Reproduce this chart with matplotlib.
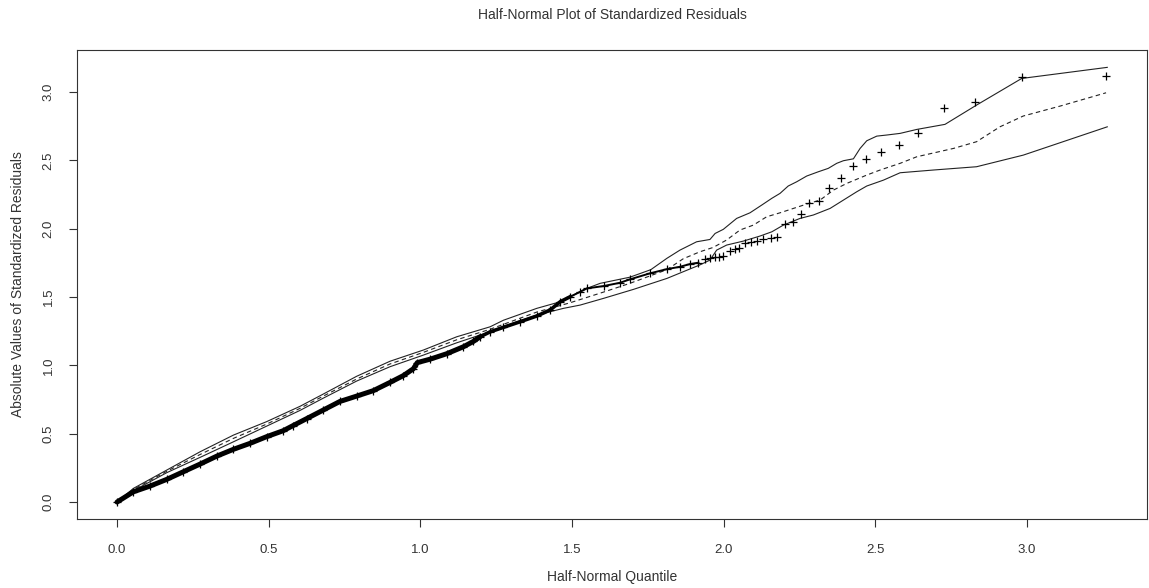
import numpy as np
import matplotlib
matplotlib.use("Agg")
import matplotlib.pyplot as plt

# ---------------------------------------------------------------------------
# DATA
# ---------------------------------------------------------------------------

# sorted absolute standardized residuals vs half-normal quantiles
quantile = [
    0.000, 0.054, 0.109, 0.164, 0.219, 0.274, 0.329, 0.384, 0.438, 0.493,
    0.548, 0.581, 0.625, 0.680, 0.735, 0.790, 0.845, 0.900, 0.944, 0.977,
    0.990, 1.032, 1.087, 1.142, 1.175, 1.197, 1.230, 1.274, 1.329, 1.384,
    1.428, 1.461, 1.494, 1.527, 1.549, 1.604, 1.658, 1.691, 1.757, 1.813,
    1.856, 1.889, 1.917, 1.940, 1.956, 1.970, 1.985, 1.999, 2.022, 2.037,
    2.050, 2.072, 2.090, 2.110, 2.131, 2.155, 2.176, 2.202, 2.230, 2.256,
    2.282, 2.315, 2.349, 2.387, 2.425, 2.470, 2.520, 2.577, 2.642, 2.727,
    2.830, 2.983, 3.261,
]
abs_resid = [
    0.000, 0.075, 0.117, 0.166, 0.222, 0.278, 0.336, 0.386, 0.429, 0.478,
    0.522, 0.560, 0.610, 0.673, 0.736, 0.775, 0.815, 0.875, 0.925, 0.975,
    1.020, 1.045, 1.085, 1.136, 1.175, 1.209, 1.245, 1.278, 1.319, 1.361,
    1.405, 1.465, 1.502, 1.538, 1.563, 1.580, 1.604, 1.629, 1.673, 1.704,
    1.721, 1.741, 1.751, 1.778, 1.783, 1.790, 1.795, 1.800, 1.838, 1.851,
    1.856, 1.897, 1.902, 1.909, 1.924, 1.931, 1.936, 2.031, 2.048, 2.109,
    2.187, 2.200, 2.297, 2.373, 2.456, 2.511, 2.558, 2.612, 2.699, 2.882,
    2.924, 3.111, 3.116,
]

# simulated envelope: upper, median (dashed), lower
upper_x = [
    0.000, 0.054, 0.164, 0.274, 0.384, 0.493, 0.603, 0.680, 0.790, 0.900,
    1.010, 1.120, 1.230, 1.274, 1.384, 1.461, 1.549, 1.593, 1.691, 1.760,
    1.813, 1.856, 1.911, 1.955, 1.972, 1.999, 2.043, 2.087, 2.126, 2.159,
    2.186, 2.213, 2.241, 2.274, 2.312, 2.345, 2.373, 2.395, 2.428, 2.450,
    2.472, 2.505, 2.538, 2.582, 2.637, 2.730, 2.834, 2.983, 3.265,
]
upper_y = [
    0.000, 0.100, 0.234, 0.368, 0.490, 0.588, 0.700, 0.790, 0.920, 1.030,
    1.112, 1.209, 1.282, 1.330, 1.417, 1.465, 1.563, 1.600, 1.645, 1.700,
    1.783, 1.843, 1.904, 1.921, 1.965, 1.995, 2.075, 2.116, 2.173, 2.222,
    2.258, 2.312, 2.343, 2.385, 2.416, 2.441, 2.478, 2.497, 2.511, 2.587,
    2.643, 2.677, 2.685, 2.697, 2.726, 2.763, 2.904, 3.099, 3.180,
]
mid_x = [
    0.000, 0.054, 0.164, 0.274, 0.384, 0.493, 0.603, 0.680, 0.790, 0.900,
    1.010, 1.120, 1.230, 1.274, 1.384, 1.494, 1.604, 1.691, 1.813, 1.867,
    1.922, 1.966, 2.010, 2.054, 2.098, 2.142, 2.186, 2.230, 2.274, 2.318,
    2.362, 2.406, 2.472, 2.516, 2.582, 2.637, 2.758, 2.834, 2.911, 2.988,
    3.110, 3.261,
]
mid_y = [
    0.000, 0.092, 0.225, 0.348, 0.466, 0.570, 0.685, 0.775, 0.900, 1.010,
    1.095, 1.187, 1.264, 1.300, 1.390, 1.458, 1.536, 1.600, 1.700, 1.780,
    1.831, 1.863, 1.917, 1.990, 2.026, 2.087, 2.116, 2.148, 2.180, 2.209,
    2.282, 2.331, 2.392, 2.429, 2.478, 2.526, 2.587, 2.636, 2.745, 2.824,
    2.897, 2.994,
]
lower_x = [
    0.000, 0.054, 0.164, 0.274, 0.384, 0.493, 0.603, 0.680, 0.790, 0.900,
    1.010, 1.120, 1.230, 1.274, 1.384, 1.472, 1.527, 1.604, 1.703, 1.813,
    1.922, 1.955, 1.977, 2.010, 2.065, 2.120, 2.159, 2.197, 2.252, 2.296,
    2.351, 2.395, 2.439, 2.472, 2.527, 2.582, 2.692, 2.834, 2.988, 3.265,
]
lower_y = [
    0.000, 0.083, 0.215, 0.327, 0.441, 0.555, 0.670, 0.760, 0.885, 0.990,
    1.075, 1.165, 1.246, 1.285, 1.368, 1.417, 1.441, 1.490, 1.556, 1.636,
    1.735, 1.770, 1.843, 1.880, 1.909, 1.946, 1.977, 2.026, 2.075, 2.100,
    2.148, 2.209, 2.270, 2.312, 2.355, 2.409, 2.429, 2.453, 2.538, 2.745,
]

ticks = [0.0, 0.5, 1.0, 1.5, 2.0, 2.5, 3.0]
tick_labels = ["0.0", "0.5", "1.0", "1.5", "2.0", "2.5", "3.0"]

# ---------------------------------------------------------------------------
# PLOT
# ---------------------------------------------------------------------------

plt.rcParams["font.family"] = ["Liberation Sans", "DejaVu Sans"]
TXT = "#333333"

fig = plt.figure(figsize=(11.49, 5.88), dpi=100)
ax = fig.add_axes([77 / 1149, 1 - 519 / 588, 1070 / 1149, 469 / 588])

line_kw = dict(color="#222222", linewidth=0.8)
ax.plot(upper_x, upper_y, **line_kw)
ax.plot(lower_x, lower_y, **line_kw)
ax.plot(mid_x, mid_y, linestyle=(0, (4, 3)), **line_kw)

qx = np.array(quantile)
qy = np.array(abs_resid)
# the many overlapping crosses form a solid band in the dense part
dense = qx <= 1.20
ax.plot(qx[dense], qy[dense], color="black", linewidth=3.6,
        solid_capstyle="round")
band = (qx >= 1.19) & (qx <= 1.50)
ax.plot(qx[band], qy[band], color="black", linewidth=2.6)
mid_part = (qx >= 1.49) & (qx <= 1.93)
ax.plot(qx[mid_part], qy[mid_part], color="black", linewidth=1.4)
ax.plot(qx, qy, linestyle="none", marker="+", markersize=6,
        markeredgewidth=0.9, color="black")

ax.set_xlim(-0.132, 3.396)
ax.set_ylim(-0.124, 3.307)

ax.set_xticks(ticks)
ax.set_xticklabels(tick_labels)
ax.set_yticks(ticks)
ax.set_yticklabels(tick_labels, rotation=90, va="center")
ax.tick_params(direction="out", length=6, width=0.8, colors="#333333",
               labelsize=9.5, pad=12)
ax.tick_params(axis="y", pad=10)
for sp in ax.spines.values():
    sp.set_linewidth(0.8)
    sp.set_color("#333333")

fig.text(612 / 1149, 1 - 15 / 588, "Half-Normal Plot of Standardized Residuals",
         ha="center", va="center", fontsize=10, color=TXT)
fig.text(612 / 1149, 1 - 577 / 588, "Half-Normal Quantile",
         ha="center", va="center", fontsize=10, color=TXT)
fig.text(18 / 1149, 1 - 284 / 588, "Absolute Values of Standardized Residuals",
         ha="center", va="center", rotation=90, fontsize=10, color=TXT)

fig.savefig("out.png", dpi=100)
